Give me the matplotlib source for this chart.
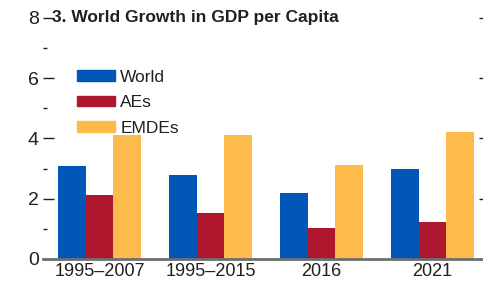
import numpy as np
import matplotlib
matplotlib.use("Agg")
import matplotlib.pyplot as plt
from matplotlib.patches import Patch
from matplotlib.ticker import MultipleLocator

plt.rcParams['font.family'] = ['Liberation Sans', 'DejaVu Sans']

# data
periods = ['1995–2007', '1995–2015', '2016', '2021']
series = ['World', 'AEs', 'EMDEs']
world = [3.09, 2.79, 2.19, 2.99]
aes = [2.12, 1.54, 1.03, 1.23]
emdes = [4.12, 4.12, 3.12, 4.22]
colors = ['#0057B8', '#AE172D', '#FDBB4C']

txt = '#231F20'

fig = plt.figure(figsize=(4.83, 2.89), dpi=100)
ax = fig.add_axes([0.089, 0.104, 0.911, 0.834])

x = np.arange(len(periods))
w = 0.25
for i, (vals, c) in enumerate(zip([world, aes, emdes], colors)):
    ax.bar(x + (i - 1) * w, vals, width=w, color=c, label=series[i])

ax.set_xlim(-0.51, 3.455)
ax.set_ylim(0, 8)
ax.set_xticks(x)
ax.set_xticklabels(periods, fontsize=13, color=txt)
ax.tick_params(axis='x', length=0, pad=3)

ax.yaxis.set_major_locator(MultipleLocator(2))
ax.yaxis.set_minor_locator(MultipleLocator(1))
ax.tick_params(axis='y', which='major', direction='in', length=8, width=1,
               labelsize=14, labelcolor=txt, color=txt, right=True, pad=3)
ax.tick_params(axis='y', which='minor', direction='in', length=3, width=1,
               color=txt, right=False)
for t in ax.yaxis.get_major_ticks():
    t.tick2line.set_markersize(3)

for s in ['top', 'right', 'left']:
    ax.spines[s].set_visible(False)
ax.spines['bottom'].set_color('#6D6E71')
ax.spines['bottom'].set_linewidth(2)

# title sits inside the axes, level with the top tick
ax.text(0.02, 8, '3. World Growth in GDP per Capita', fontsize=12.5,
        fontweight='bold', color=txt, va='center', ha='left',
        transform=ax.get_yaxis_transform())

handles = [Patch(color=c) for c in colors]
ax.legend(handles, series, loc='upper left', bbox_to_anchor=(0.077, 0.785),
          frameon=False, fontsize=12.5, handlelength=2.2, handleheight=0.55,
          handletextpad=0.3, labelspacing=0.6, borderpad=0, borderaxespad=0,
          labelcolor=txt)

fig.savefig('out.png', dpi=100)
